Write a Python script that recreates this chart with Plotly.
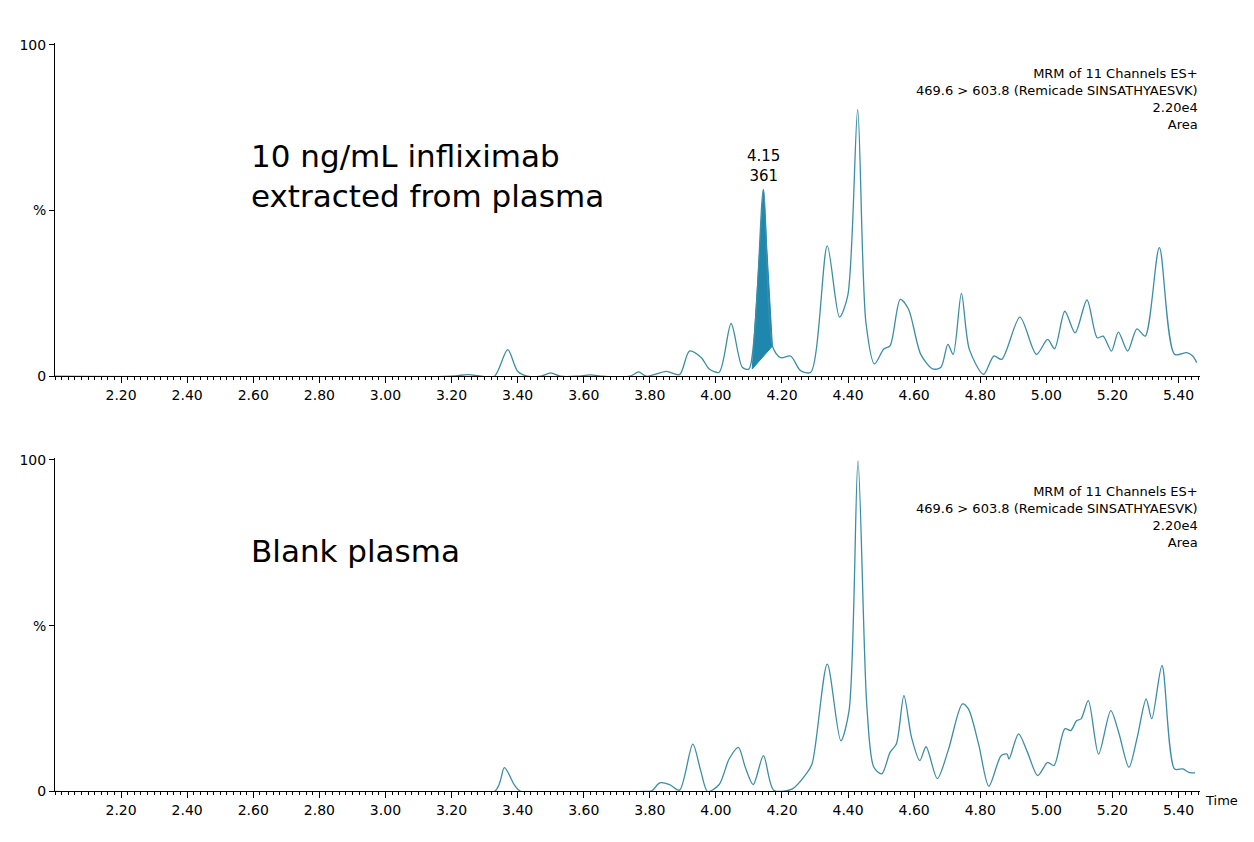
import plotly.graph_objects as go

# retention time (min) and relative intensity (%)
top_time = [2.00, 3.20, 3.25, 3.29, 3.33, 3.37, 3.40, 3.43, 3.47, 3.50, 3.53, 3.58, 3.62, 3.66, 3.74,
            3.766, 3.79, 3.85, 3.89, 3.92, 3.956, 3.98, 4.01, 4.046, 4.08, 4.10, 4.144, 4.171, 4.196,
            4.226, 4.256, 4.287, 4.337, 4.374, 4.399, 4.429, 4.454, 4.48, 4.508, 4.527, 4.558,
            4.583, 4.62, 4.656, 4.681, 4.702, 4.718, 4.743, 4.767, 4.81, 4.841, 4.865, 4.92, 4.97,
            5.004, 5.025, 5.056, 5.087, 5.123, 5.154, 5.172, 5.197, 5.218, 5.246, 5.274, 5.299,
            5.342, 5.388, 5.425, 5.443, 5.455]
top_pct = [0, 0, 0.5, 0, 0, 8, 1.5, 0, 0, 1, 0, 0, 0.4, 0, 0,
           1.3, 0, 1.5, 0.5, 7.6, 5.6, 2.2, 1.2, 15.9, 2.7, 2.2, 56.3, 9.1, 5.6,
           6.1, 1.7, 1.2, 39.3, 17.8, 24.3, 80.4, 16.2, 3.7, 8.2, 9.2, 23.2,
           20.2, 6.6, 2.2, 2.7, 9.6, 6.6, 25.0, 8.1, 0.6, 6.1, 5.1, 17.8, 6.6,
           11.1, 8.3, 19.6, 13.1, 23.0, 11.6, 12.1, 7.6, 13.3, 7.6, 14.3, 12.1,
           38.8, 6.6, 7.1, 6.1, 4.1]

bot_time = [2.00, 3.33, 3.36, 3.39, 3.41, 3.78, 3.806, 3.83, 3.86, 3.89, 3.93, 3.954, 3.975, 4.01,
            4.04, 4.068, 4.089, 4.113, 4.144, 4.175, 4.23, 4.273, 4.291, 4.337, 4.378, 4.403,
            4.43, 4.457, 4.478, 4.502, 4.527, 4.546, 4.569, 4.592, 4.617, 4.636, 4.67, 4.703,
            4.746, 4.764, 4.795, 4.826, 4.863, 4.881, 4.887, 4.916, 4.943, 4.974, 5.004, 5.023,
            5.056, 5.074, 5.092, 5.105, 5.127, 5.158, 5.195, 5.219, 5.25, 5.275, 5.302, 5.319,
            5.35, 5.388, 5.413, 5.431, 5.45]
bot_pct = [0, 0, 7.2, 2, 0, 0, 0.2, 2.6, 2.1, 0.4, 14.3, 6.3, 0, 2.1,
           9.8, 13.3, 7.3, 2.1, 10.8, 0.4, 0.7, 5.3, 8.3, 38.4, 15.3, 24.4,
           99.7, 25.4, 7.3, 5.3, 11.8, 14.3, 28.9, 16.3, 9.3, 13.5, 3.9, 12.4,
           26.4, 24.9, 14.3, 1.6, 10.8, 11.3, 9.8, 17.4, 11.8, 4.8, 8.8, 7.8,
           18.9, 18.4, 21.4, 21.9, 27.4, 11.3, 24.4, 17.8, 7.3, 16.3, 27.9, 21.9,
           38.0, 6.8, 6.8, 5.8, 5.6]

# integrated peak (start, apex, end)
peak_time = [4.11, 4.144, 4.171]
peak_pct = [2.2, 56.3, 9.1]

header = "MRM of 11 Channels ES+<br>469.6 > 603.8 (Remicade SINSATHYAESVK)<br>2.20e4<br>Area"
line_col = "#3b8ea5"
font = "DejaVu Sans"

fig = go.Figure()
fig.add_trace(go.Scatter(x=peak_time + [peak_time[0]], y=peak_pct + [peak_pct[0]], fill="toself",
                         fillcolor="#1f86ad", line=dict(color="#1f86ad", width=1),
                         mode="lines", xaxis="x", yaxis="y", showlegend=False))
fig.add_trace(go.Scatter(x=top_time, y=top_pct, mode="lines", line=dict(color=line_col, width=1.3, shape="spline", smoothing=0.8),
                         xaxis="x", yaxis="y", showlegend=False))
fig.add_trace(go.Scatter(x=bot_time, y=bot_pct, mode="lines", line=dict(color=line_col, width=1.3, shape="spline", smoothing=0.8),
                         xaxis="x2", yaxis="y2", showlegend=False))

xax = dict(range=[2.0, 5.465], tickvals=[2.2 + 0.2 * i for i in range(17)], ticktext=[f"{2.2 + 0.2 * i:.2f}" for i in range(17)],
           ticks="outside", ticklen=6, tickcolor="black", showline=True, linecolor="black", linewidth=1,
           showgrid=False, zeroline=False, tickfont=dict(size=14, family=font, color="black"),
           minor=dict(dtick=0.02, tick0=2.0, ticks="outside", ticklen=3, tickcolor="black"))
yax = dict(range=[0, 100.5], tickvals=[0, 50, 100], ticktext=["0", "%", "100"], ticks="outside", ticklen=5,
           tickcolor="black", showline=True, linecolor="black", linewidth=1, showgrid=False, zeroline=False,
           tickfont=dict(size=14, family=font, color="black"))

fig.update_layout(
    width=1254, height=842, plot_bgcolor="white", paper_bgcolor="white",
    margin=dict(l=47, r=62, t=0, b=0),
    xaxis=dict(xax, anchor="y", domain=[0, 1]),
    yaxis=dict(yax, anchor="x", domain=[0.5625, 0.965]),
    xaxis2=dict(xax, anchor="y2", domain=[0, 1]),
    yaxis2=dict(yax, anchor="x2", domain=[0.061, 0.4634]),
    annotations=[
        dict(text="10 ng/mL infliximab<br>extracted from plasma", xref="paper", yref="paper", x=0.169, y=0.804,
             xanchor="left", yanchor="middle", showarrow=False, align="left",
             font=dict(size=31, family=font, color="black")),
        dict(text="Blank plasma", xref="paper", yref="paper", x=0.169, y=0.351, xanchor="left", yanchor="middle",
             showarrow=False, font=dict(size=31, family=font, color="black")),
        dict(text="4.15<br>361", xref="x", yref="y", x=4.144, y=57, xanchor="center", yanchor="bottom",
             showarrow=False, font=dict(size=15, family=font, color="black")),
        dict(text=header, xref="paper", yref="paper", x=1.0, y=0.897, xanchor="right", yanchor="middle",
             align="right", showarrow=False, font=dict(size=13, family=font, color="black")),
        dict(text=header, xref="paper", yref="paper", x=1.0, y=0.393, xanchor="right", yanchor="middle",
             align="right", showarrow=False, font=dict(size=13, family=font, color="black")),
        dict(text="Time", xref="paper", yref="paper", x=1.0, y=0.061, xanchor="left", yanchor="top",
             xshift=3, showarrow=False, font=dict(size=13, family=font, color="black")),
    ],
)

fig.write_html("out.html")
